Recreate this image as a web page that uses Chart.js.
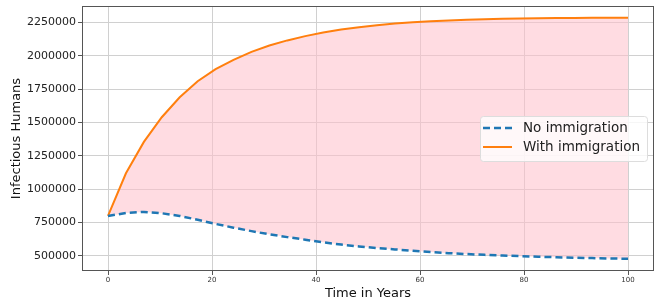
<!DOCTYPE html>
<html>
<head>
<meta charset="utf-8">
<script src="https://cdn.jsdelivr.net/npm/chart.js@4.4.1/dist/chart.umd.min.js"></script>
<style>
  html, body { margin: 0; padding: 0; background: #fff; }
  #wrap { width: 662px; height: 301px; }
</style>
</head>
<body>
<div id="wrap"><canvas id="chart" width="662" height="301"></canvas></div>
<script>
// Years sampled (30 steps over 100 years)
const years = [0, 3.45, 6.9, 10.34, 13.79, 17.24, 20.69, 24.14, 27.59, 31.03,
  34.48, 37.93, 41.38, 44.83, 48.28, 51.72, 55.17, 58.62, 62.07, 65.52,
  68.97, 72.41, 75.86, 79.31, 82.76, 86.21, 89.66, 93.1, 96.55, 100];
// Infectious humans without immigration
const noImmigration = [800000, 822000, 830000, 820000, 800000, 771000, 740000, 712000, 686000, 662000,
  641000, 622000, 602000, 585000, 571000, 559000, 549000, 538000, 529000, 521000,
  514000, 508000, 503000, 498000, 494000, 490000, 487000, 484000, 481000, 479000];
// Infectious humans with immigration
const withImmigration = [800000, 1120000, 1355000, 1540000, 1690000, 1810000, 1900000, 1970000, 2030000, 2078000,
  2116000, 2148000, 2175000, 2197000, 2215000, 2230000, 2242000, 2252000, 2260000, 2266000,
  2271000, 2275000, 2278000, 2280000, 2282000, 2283500, 2284500, 2285500, 2286000, 2286500];

const xTicks = [0, 20, 40, 60, 80, 100];
const yTicks = [500000, 750000, 1000000, 1250000, 1500000, 1750000, 2000000, 2250000];

const BLUE = '#1f77b4';
const ORANGE = '#ff7f0e';
const FONT = "'DejaVu Sans', sans-serif";

function toPoints(ys) {
  return years.map((x, i) => ({ x: x, y: ys[i] }));
}

// box around the axes + legend inside the plot
const framePlugin = {
  id: 'frame',
  afterDraw(chart) {
    const { ctx, chartArea: a } = chart;
    ctx.save();
    ctx.strokeStyle = '#555';
    ctx.lineWidth = 1;
    ctx.strokeRect(a.left + 0.5, a.top + 0.5, a.right - a.left - 1, a.bottom - a.top - 1);

    // legend
    const bx = 480, by = 116, bw = 167, bh = 45;
    ctx.fillStyle = 'rgba(255,255,255,0.8)';
    ctx.strokeStyle = '#dddddd';
    ctx.beginPath();
    ctx.roundRect(bx + 0.5, by + 0.5, bw, bh, 3);
    ctx.fill();
    ctx.stroke();

    ctx.font = '13.5px ' + FONT;
    ctx.textBaseline = 'middle';
    ctx.fillStyle = '#222';
    const rows = [
      { label: 'No immigration', color: BLUE, dash: [7, 4], y: 128 },
      { label: 'With immigration', color: ORANGE, dash: [], y: 147 }
    ];
    rows.forEach(r => {
      ctx.strokeStyle = r.color;
      ctx.lineWidth = r.dash.length ? 2.5 : 2;
      ctx.setLineDash(r.dash);
      ctx.beginPath();
      ctx.moveTo(483, r.y);
      ctx.lineTo(512, r.y);
      ctx.stroke();
      ctx.setLineDash([]);
      ctx.fillText(r.label, 523, r.y);
    });
    ctx.restore();
  }
};

new Chart(document.getElementById('chart'), {
  type: 'line',
  data: {
    datasets: [
      {
        label: 'No immigration',
        data: toPoints(noImmigration),
        borderColor: BLUE,
        borderWidth: 2.5,
        borderDash: [7, 4],
        pointRadius: 0,
        tension: 0,
        fill: false
      },
      {
        label: 'With immigration',
        data: toPoints(withImmigration),
        borderColor: ORANGE,
        borderWidth: 2,
        pointRadius: 0,
        tension: 0,
        fill: { target: 0 },
        backgroundColor: 'rgba(255, 192, 203, 0.55)'
      }
    ]
  },
  options: {
    responsive: false,
    animation: false,
    layout: { padding: { top: 6, right: 8, left: 0, bottom: 0 } },
    plugins: { legend: { display: false }, tooltip: { enabled: false } },
    scales: {
      x: {
        type: 'linear',
        min: -5,
        max: 105,
        afterBuildTicks: s => { s.ticks = xTicks.map(v => ({ value: v })); },
        afterFit: s => { s.height = 30; s.paddingLeft = 0; s.paddingRight = 0; },
        grid: { color: '#d0d0d0', tickColor: '#555', tickLength: 4 },
        border: { display: false },
        ticks: { font: { family: FONT, size: 7 }, color: '#333', padding: 1, maxRotation: 0 },
        title: { display: true, text: 'Time in Years', font: { family: FONT, size: 13 }, color: '#111', padding: { top: 0, bottom: 0 } }
      },
      y: {
        min: 387000,
        max: 2374000,
        afterBuildTicks: s => { s.ticks = yTicks.map(v => ({ value: v })); },
        afterFit: s => { s.width = 82; s.paddingTop = 0; s.paddingBottom = 0; },
        grid: { color: '#d0d0d0', tickColor: '#555', tickLength: 4 },
        border: { display: false },
        ticks: { font: { family: FONT, size: 11 }, color: '#222', padding: 2, callback: v => String(v) },
        title: { display: true, text: 'Infectious Humans', font: { family: FONT, size: 13 }, color: '#111', padding: { top: 9, bottom: 0 } }
      }
    }
  },
  plugins: [framePlugin]
});
</script>
</body>
</html>
